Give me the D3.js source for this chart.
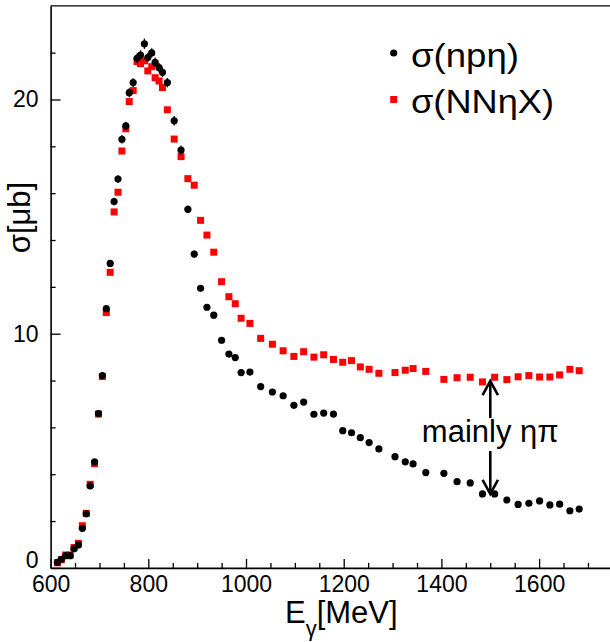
<!DOCTYPE html>
<html>
<head>
<meta charset="utf-8">
<script src="https://cdn.jsdelivr.net/npm/d3@7"></script>
<style>
  html, body { margin: 0; padding: 0; background: #fff; }
  svg { display: block; }
  text { font-family: "Liberation Sans", Arial, Helvetica, sans-serif; fill: #000; }
</style>
</head>
<body>
<svg id="chart" width="610" height="642"></svg>
<script>
// Photon energy bins (MeV), shared by both series
const energy = [614, 622, 631, 640, 648, 657, 665, 673, 681, 690, 698, 706, 714, 722, 730, 738,
  746, 754, 761, 769, 777, 784, 792, 799, 807, 814, 822, 829, 839, 853, 867, 881, 894, 907, 920,
  934, 950, 965, 978, 990, 1008, 1030, 1054, 1076, 1098, 1118, 1139, 1159, 1179, 1198, 1216, 1234,
  1252, 1272, 1305, 1326, 1342, 1368, 1405, 1432, 1459, 1484, 1509, 1534, 1557, 1579, 1601, 1622,
  1642, 1663, 1682];

// sigma(n p eta) in microbarn
const sigmaNpEta = [0.24, 0.37, 0.52, 0.52, 0.82, 0.98, 1.69, 2.31, 3.50, 4.53, 6.59, 8.21, 11.07,
  13.0, 15.64, 16.6, 18.30, 18.87, 20.29, 20.72, 21.76, 21.90, 22.38, 21.79, 21.99, 21.59, 21.36,
  21.16, 20.72, 19.09, 17.84, 15.31, 13.40, 11.94, 11.13, 10.79, 9.72, 9.13, 8.98, 8.34, 8.36, 7.74,
  7.51, 7.35, 6.94, 7.08, 6.56, 6.61, 6.57, 5.86, 5.77, 5.56, 5.35, 5.08, 4.75, 4.53, 4.44, 4.07,
  4.04, 3.68, 3.63, 3.16, 3.16, 2.90, 2.71, 2.76, 2.86, 2.69, 2.72, 2.44, 2.51];

// statistical errors of sigma(n p eta)
const errNpEta = [0.05, 0.05, 0.05, 0.05, 0.06, 0.06, 0.08, 0.08, 0.10, 0.10, 0.12, 0.12, 0.14,
  0.15, 0.16, 0.16, 0.18, 0.18, 0.19, 0.19, 0.20, 0.20, 0.22, 0.20, 0.20, 0.20, 0.20, 0.20, 0.20,
  0.20, 0.19, 0.16, 0.15, 0.14, 0.13, 0.13, 0.12, 0.12, 0.12, 0.11, 0.11, 0.10, 0.10, 0.10, 0.10,
  0.10, 0.10, 0.10, 0.10, 0.09, 0.09, 0.09, 0.09, 0.09, 0.09, 0.09, 0.09, 0.08, 0.08, 0.08, 0.08,
  0.08, 0.08, 0.08, 0.08, 0.08, 0.08, 0.08, 0.08, 0.08, 0.08];

// sigma(N N eta X) in microbarn
const sigmaNNEtaX = [0.22, 0.35, 0.55, 0.55, 0.87, 1.05, 1.80, 2.33, 3.57, 4.45, 6.57, 8.17, 10.90,
  12.62, 15.2, 16.04, 17.8, 18.75, 19.91, 20.38, 21.62, 21.53, 21.65, 21.22, 21.40, 20.93, 20.79,
  20.51, 19.56, 18.31, 17.56, 16.62, 16.34, 14.84, 14.21, 13.48, 12.22, 11.58, 11.28, 10.66, 10.44,
  9.80, 9.55, 9.27, 9.03, 9.23, 9.00, 9.10, 8.90, 8.78, 8.85, 8.58, 8.48, 8.31, 8.34, 8.44, 8.51,
  8.39, 8.05, 8.12, 8.14, 7.94, 8.14, 8.04, 8.16, 8.21, 8.15, 8.15, 8.24, 8.48, 8.42];

// Axis ticks
const xMajorTicks = [600, 800, 1000, 1200, 1400, 1600];
const xMinorTicks = [650, 700, 750, 850, 900, 950, 1050, 1100, 1150, 1250, 1300, 1350, 1450,
  1500, 1550, 1650, 1700];
const yMajorTicks = [0, 10, 20];
const yMinorTicks = [2, 4, 6, 8, 12, 14, 16, 18, 22];

// Legend entries and annotation
const legendLabels = ["σ(npη)", "σ(NNηX)"];
const annotationText = "mainly ηπ";
const annotationE = 1500;
const annotationTop = 7.98;
const annotationBottom = 3.16;

const svg = d3.select("#chart");

const x = d3.scaleLinear().domain([600, 1750]).range([50.6, 612.4]);
const y = d3.scaleLinear().domain([0, 24]).range([567.9, 5.8]);

const fontTick = 23;
const fontBig = 31;

// frame line along the top
svg.append("line")
  .attr("x1", x(600)).attr("x2", x(1750))
  .attr("y1", y(24)).attr("y2", y(24))
  .attr("stroke", "#000").attr("stroke-width", 1.2);

// x axis: major ticks with labels, minor ticks without
const xAxisMajor = d3.axisBottom(x).tickValues(xMajorTicks).tickSizeInner(-9).tickSizeOuter(0)
  .tickPadding(7.5).tickFormat(d3.format("d"));
const gx = svg.append("g").attr("transform", `translate(0,${y(0)})`).call(xAxisMajor);
gx.select(".domain").attr("stroke-width", 1.6);
gx.selectAll(".tick line").attr("stroke-width", 1.3);
gx.selectAll(".tick text").attr("font-size", fontTick)
  .style("font-family", '"Liberation Sans", Arial, sans-serif');

const xAxisMinor = d3.axisBottom(x).tickValues(xMinorTicks).tickSizeInner(-5).tickSizeOuter(0)
  .tickFormat("");
const gxm = svg.append("g").attr("transform", `translate(0,${y(0)})`).call(xAxisMinor);
gxm.select(".domain").remove();
gxm.selectAll(".tick line").attr("stroke-width", 1.3);

// y axis
const yAxisMajor = d3.axisLeft(y).tickValues(yMajorTicks).tickSizeInner(-10).tickSizeOuter(0)
  .tickPadding(12).tickFormat(d3.format("d"));
const gy = svg.append("g").attr("transform", `translate(${x(600)},0)`).call(yAxisMajor);
gy.select(".domain").attr("stroke-width", 1.6);
gy.selectAll(".tick line").attr("stroke-width", 1.3);
gy.selectAll(".tick text").attr("font-size", fontTick)
  .style("font-family", '"Liberation Sans", Arial, sans-serif');
// the "0" label sits just above the "600" label at the corner
gy.selectAll(".tick").filter(d => d === 0).select("text").attr("dy", "-0.02em");

const yAxisMinor = d3.axisLeft(y).tickValues(yMinorTicks).tickSizeInner(-5).tickSizeOuter(0)
  .tickFormat("");
const gym = svg.append("g").attr("transform", `translate(${x(600)},0)`).call(yAxisMinor);
gym.select(".domain").remove();
gym.selectAll(".tick line").attr("stroke-width", 1.3);

// axis titles
const xt = svg.append("text").attr("x", 285).attr("y", 623).attr("font-size", fontBig);
xt.append("tspan").text("E");
xt.append("tspan").attr("dy", 13).attr("font-size", 22).text("γ");
xt.append("tspan").attr("dy", -13).text("[MeV]");

svg.append("text")
  .attr("transform", "translate(30,217.5) rotate(-90)")
  .attr("text-anchor", "middle")
  .attr("font-size", fontBig)
  .text("σ[μb]");

// data: inclusive red squares drawn underneath the exclusive black points
const rows = energy.map((e, i) => ({ e, np: sigmaNpEta[i], err: errNpEta[i], nn: sigmaNNEtaX[i] }));

const sq = 7;
svg.append("g").selectAll("rect").data(rows).join("rect")
  .attr("x", d => x(d.e) - sq / 2)
  .attr("y", d => y(d.nn) - sq / 2)
  .attr("width", sq).attr("height", sq)
  .attr("fill", "#ff0000");

svg.append("g").selectAll("line").data(rows).join("line")
  .attr("x1", d => x(d.e)).attr("x2", d => x(d.e))
  .attr("y1", d => y(d.np - d.err)).attr("y2", d => y(d.np + d.err))
  .attr("stroke", "#000").attr("stroke-width", 1.3);

svg.append("g").selectAll("circle").data(rows).join("circle")
  .attr("cx", d => x(d.e))
  .attr("cy", d => y(d.np))
  .attr("r", 3.6)
  .attr("fill", "#000");

// legend (wide lettering, stretched to its box)
const legend = svg.append("g");
legend.append("circle").attr("cx", 393.7).attr("cy", 53).attr("r", 3.6).attr("fill", "#000");
legend.append("text").attr("x", 411).attr("y", 67.3).attr("font-size", 33)
  .attr("textLength", 108).attr("lengthAdjust", "spacingAndGlyphs").text(legendLabels[0]);
legend.append("rect").attr("x", 393.7 - sq / 2).attr("y", 99.5 - sq / 2)
  .attr("width", sq).attr("height", sq).attr("fill", "#ff0000");
legend.append("text").attr("x", 411).attr("y", 113.3).attr("font-size", 33)
  .attr("textLength", 143).attr("lengthAdjust", "spacingAndGlyphs").text(legendLabels[1]);

// annotation: double arrow between the two cross sections
const ax = x(annotationE);
const yTop = y(annotationTop);
const yBot = y(annotationBottom);
const ann = svg.append("g").attr("stroke", "#000").attr("stroke-width", 2.6).attr("fill", "none");
ann.append("line").attr("x1", ax).attr("x2", ax).attr("y1", yTop).attr("y2", 418);
ann.append("polyline").attr("points", `${ax - 7.7},${yTop + 14} ${ax},${yTop} ${ax + 7.7},${yTop + 14}`);
ann.append("line").attr("x1", ax).attr("x2", ax).attr("y1", 451).attr("y2", yBot);
ann.append("polyline").attr("points", `${ax - 7.7},${yBot - 14} ${ax},${yBot} ${ax + 7.7},${yBot - 14}`);

svg.append("text")
  .attr("x", ax).attr("y", 441.7)
  .attr("text-anchor", "middle")
  .attr("font-size", fontBig)
  .text(annotationText);
</script>
</body>
</html>
